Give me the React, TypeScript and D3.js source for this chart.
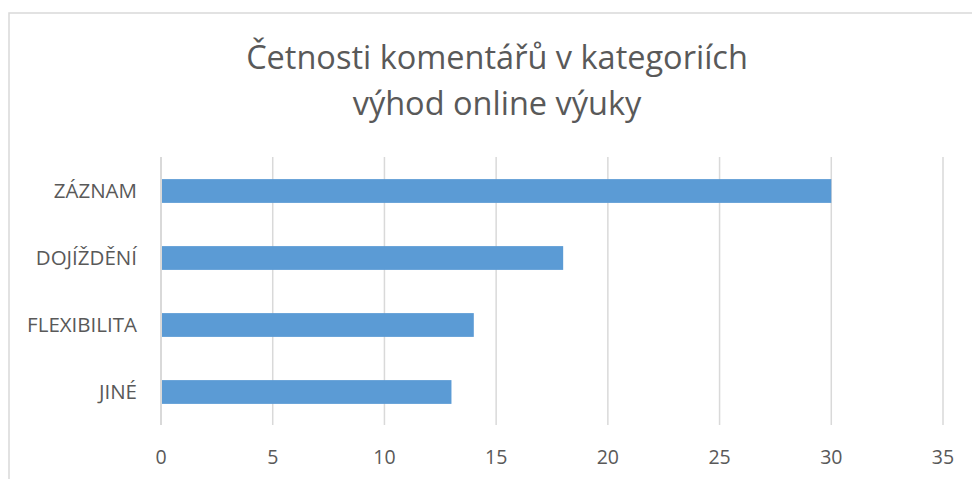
import React from 'react'
import * as d3 from 'd3'

const categories = ['ZÁZNAM', 'DOJÍŽDĚNÍ', 'FLEXIBILITA', 'JINÉ']
const counts = [30, 18, 14, 13]
const tickValues = [0, 5, 10, 15, 20, 25, 30, 35]
const titleLines = ['Četnosti komentářů v kategoriích', 'výhod online výuky']

const W = 972
const H = 479
const font = '"Open Sans", "Noto Sans", sans-serif'

export default function App() {
  const x = d3.scaleLinear().domain([0, 35]).range([161, 943])
  const y = d3.scaleBand().domain(categories).range([157.5, 425.5]).paddingInner(0.645).paddingOuter(0.3225)

  return (
    <svg width={W} height={H} style={{ position: 'absolute', left: 0, top: 0 }}>
      <rect x={0} y={0} width={W} height={H} fill="#fff" />
      <rect x={9} y={13} width={980} height={500} fill="none" stroke="#d9d9d9" strokeWidth={1.5} />
      <g fontFamily={font} fill="#595959" textAnchor="middle" fontSize={32.5}>
        {titleLines.map((t, i) => (
          <text key={i} x={497} y={69 + i * 46}>{t}</text>
        ))}
      </g>
      {tickValues.map(v => (
        <g key={v}>
          <line x1={x(v)} x2={x(v)} y1={157} y2={425} stroke="#d9d9d9" strokeWidth={v === 0 ? 2 : 1.5} />
          <text x={x(v)} y={464} textAnchor="middle" fontFamily={font} fontSize={19.5} fill="#595959">{v}</text>
        </g>
      ))}
      {categories.map((c, i) => (
        <g key={c}>
          <rect x={x(0) + 1} y={y(c)} width={x(counts[i]) - x(0) - 1} height={y.bandwidth()} fill="#5b9bd5" />
          <text x={137} y={(y(c) ?? 0) + y.bandwidth() / 2} dy="0.35em" textAnchor="end" fontFamily={font} fontSize={20.5} fill="#595959">{c}</text>
        </g>
      ))}
    </svg>
  )
}
